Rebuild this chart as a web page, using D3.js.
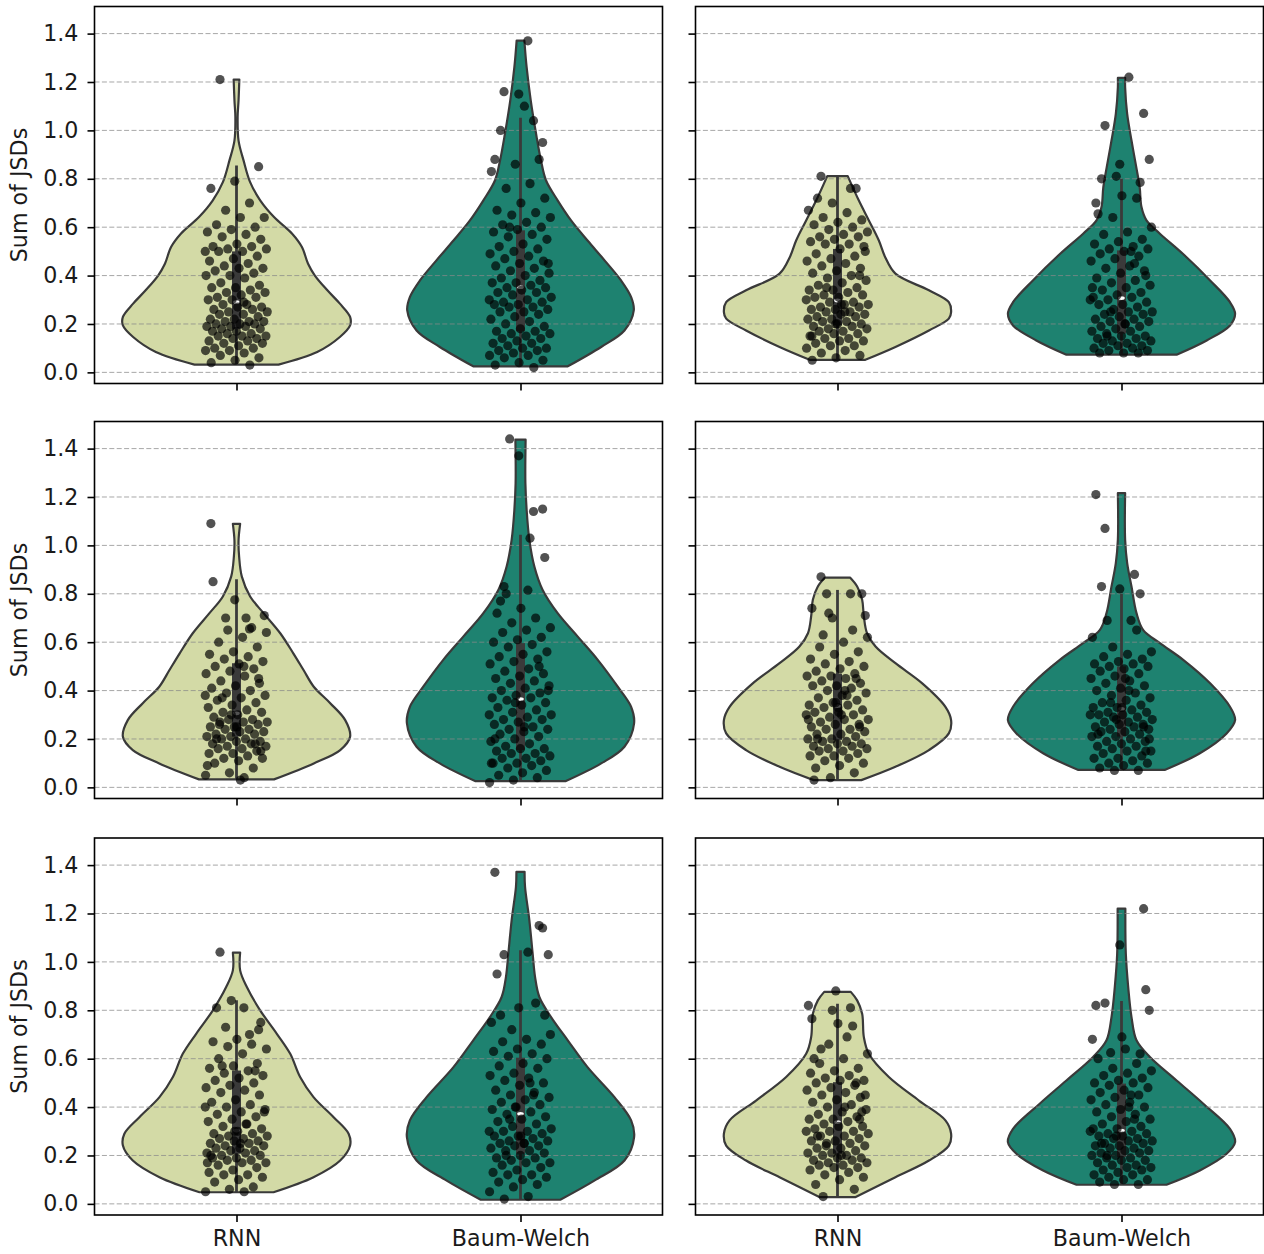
<!DOCTYPE html>
<html>
<head>
<meta charset="utf-8">
<script src="https://cdn.jsdelivr.net/npm/d3@7"></script>
<style>
  body { margin: 0; background: #fff; }
  svg { display: block; }
  text { font-family: "DejaVu Sans", sans-serif; }
</style>
</head>
<body>
<svg id="chart" width="1264" height="1254"></svg>
<script>
// ---- data -------------------------------------------------------------
const categories = ["RNN", "Baum-Welch"];
const yTicks = [0, 0.2, 0.4, 0.6, 0.8, 1.0, 1.2, 1.4];
const yLabel = "Sum of JSDs";

// Sum of JSDs per run, one array per method and panel (panels read row by row)
const rnn1 = [0.50,0.29,1.21,0.85,0.79,0.76,0.70,0.67,0.64,0.64,0.61,0.60,0.59,0.58,0.57,0.56,0.55,0.53,0.52,0.52,0.51,0.51,0.50,0.50,
  0.48,0.47,0.46,0.45,0.44,0.43,0.43,0.42,0.41,0.40,0.40,0.39,0.37,0.36,0.35,0.35,0.34,0.33,0.33,0.32,0.31,0.31,0.30,0.30,
  0.28,0.28,0.27,0.27,0.26,0.26,0.25,0.25,0.24,0.24,0.23,0.22,0.22,0.21,0.21,0.21,0.20,0.20,0.20,0.19,0.19,0.19,0.18,0.18,
  0.17,0.17,0.16,0.16,0.15,0.15,0.15,0.14,0.14,0.13,0.13,0.12,0.12,0.11,0.10,0.10,0.09,0.09,0.08,0.07,0.06,0.05,0.04,0.03];
const bw1 = [0.30,1.37,1.16,0.95,1.15,0.88,1.04,0.60,0.45,1.10,1.00,0.88,0.86,0.83,0.78,0.76,0.72,0.70,0.67,0.66,0.65,0.64,0.62,0.61,0.60,0.59,
  0.58,0.57,0.56,0.55,0.53,0.52,0.51,0.50,0.49,0.48,0.47,0.46,0.45,0.44,0.43,0.42,0.41,0.40,0.39,0.38,0.37,0.37,0.36,0.35,
  0.35,0.34,0.33,0.33,0.32,0.31,0.30,0.29,0.29,0.28,0.28,0.27,0.27,0.26,0.25,0.25,0.24,0.23,0.22,0.21,0.20,0.19,0.18,0.17,
  0.17,0.16,0.16,0.15,0.14,0.14,0.13,0.12,0.12,0.11,0.10,0.10,0.09,0.09,0.08,0.07,0.07,0.06,0.05,0.04,0.03,0.02];
const rnn2 = [0.30,0.25,0.81,0.40,0.20,0.15,0.76,0.35,0.50,0.28,0.72,0.76,
  0.70,0.67,0.66,0.64,0.63,0.62,0.61,0.60,0.59,0.58,0.57,0.56,0.56,0.55,0.54,0.53,0.53,0.52,0.51,
  0.49,0.48,0.47,0.46,0.45,0.44,0.43,0.42,0.41,0.40,0.39,0.38,0.37,0.36,0.35,0.34,0.34,0.33,0.32,0.32,0.31,0.31,
  0.29,0.29,0.28,0.28,0.27,0.27,0.26,0.26,0.25,0.25,0.24,0.24,0.23,0.23,0.22,0.22,0.21,0.21,0.20,0.20,
  0.19,0.19,0.18,0.18,0.17,0.17,0.16,0.16,0.15,0.14,0.14,0.13,0.13,0.12,0.11,0.11,0.10,0.09,0.08,0.07,0.06,0.05];
const bw2 = [0.30,1.22,1.02,1.07,0.86,0.70,0.45,0.25,0.88,0.20,0.80,0.785,0.81,0.35,0.50,0.15,0.40,0.73,0.655,
  0.72,0.64,0.60,0.58,0.57,0.55,0.54,0.53,0.52,0.51,0.51,
  0.50,0.49,0.48,0.47,0.46,0.44,0.43,0.42,0.41,0.39,0.38,0.37,0.36,0.35,0.34,0.33,0.32,0.31,0.31,
  0.30,0.29,0.28,0.28,0.27,0.26,0.25,0.25,0.24,0.24,0.23,0.22,0.22,0.21,0.21,0.20,0.19,0.19,0.18,0.17,0.17,0.16,
  0.15,0.15,0.14,0.14,0.13,0.13,0.12,0.12,0.11,0.11,0.10,0.10,0.09,0.09,0.08,0.08,0.08];
const rnn3 = [0.38,0.50,0.27,0.45,0.775,1.09,0.655,0.70,0.71,0.03,0.20,0.18,0.30,0.09,0.70,0.37,0.15,0.25,0.85,
  0.66,0.65,0.64,0.62,0.60,0.58,0.56,0.55,0.54,0.53,0.52,0.51,
  0.50,0.49,0.48,0.47,0.46,0.44,0.43,0.42,0.41,0.40,0.39,0.38,0.37,0.36,0.35,0.34,0.33,0.32,0.31,0.31,
  0.30,0.29,0.28,0.28,0.27,0.27,0.26,0.26,0.25,0.25,0.24,0.24,0.23,0.23,0.22,0.22,0.21,0.21,
  0.20,0.20,0.19,0.19,0.18,0.18,0.17,0.17,0.16,0.16,0.15,0.14,0.14,0.13,0.12,0.12,0.11,0.10,0.08,0.06,0.05,0.04];
const bw3 = [0.30,0.815,0.83,1.15,1.37,0.20,1.14,1.44,0.40,0.25,0.77,0.50,0.35,0.10,1.03,0.80,0.95,
  0.74,0.72,0.70,0.68,0.66,0.65,0.64,0.62,0.61,0.60,
  0.59,0.58,0.56,0.55,0.54,0.53,0.52,0.51,0.49,0.48,0.47,0.46,0.45,0.44,0.43,0.42,0.41,0.40,0.39,0.38,0.37,0.37,
  0.36,0.35,0.34,0.33,0.32,0.31,0.30,0.29,0.28,0.28,0.27,0.26,0.25,0.24,0.24,0.23,0.22,0.21,0.20,0.19,0.18,0.17,0.16,0.16,
  0.15,0.14,0.14,0.13,0.12,0.12,0.11,0.10,0.10,0.09,0.08,0.07,0.06,0.05,0.04,0.03,0.02];
const rnn4 = [0.30,0.40,0.87,0.25,0.35,0.74,0.80,0.80,0.71,0.30,0.20,0.45,0.70,0.28,0.38,0.63,0.80,0.33,0.03,0.65,0.72,
  0.62,0.60,0.58,0.56,0.55,0.53,0.52,0.51,0.50,0.49,0.48,0.47,
  0.46,0.46,0.45,0.44,0.43,0.42,0.42,0.41,0.40,0.39,0.38,0.37,0.36,0.35,0.34,0.34,
  0.33,0.32,0.31,0.31,0.30,0.29,0.28,0.28,0.27,0.26,0.26,0.25,0.24,0.24,0.23,0.22,0.22,0.21,0.20,0.20,
  0.19,0.19,0.18,0.18,0.17,0.17,0.16,0.16,0.15,0.15,0.14,0.13,0.13,0.12,0.11,0.10,0.09,0.08,0.06,0.04];
const bw4 = [0.30,0.40,1.07,0.25,0.82,1.21,0.88,0.35,0.20,0.45,0.83,0.80,0.28,0.62,0.69,0.69,0.15,0.33,0.22,0.65,
  0.58,0.56,0.55,0.54,0.53,0.52,0.51,0.51,0.50,0.50,
  0.49,0.48,0.47,0.46,0.45,0.44,0.43,0.42,0.41,0.40,0.39,0.38,0.37,0.36,0.35,0.34,0.33,0.33,
  0.32,0.31,0.31,0.30,0.30,0.29,0.29,0.28,0.27,0.27,0.26,0.26,0.25,0.25,0.24,0.24,0.23,0.23,0.22,0.21,0.21,
  0.20,0.19,0.19,0.18,0.17,0.17,0.16,0.15,0.15,0.14,0.13,0.12,0.12,0.11,0.10,0.10,0.09,0.08,0.07,0.07];
const rnn5 = [0.40,0.81,1.04,0.72,0.30,0.20,0.70,0.73,0.38,0.25,0.81,0.55,0.84,0.17,0.33,0.57,0.75,
  0.68,0.67,0.66,0.65,0.64,0.62,0.60,0.58,0.57,0.56,0.55,
  0.54,0.53,0.52,0.51,0.50,0.49,0.48,0.47,0.46,0.45,0.43,0.42,0.41,0.40,0.39,0.38,0.37,0.36,0.35,0.34,0.33,0.32,0.31,
  0.30,0.29,0.29,0.28,0.28,0.27,0.27,0.26,0.26,0.25,0.25,0.24,0.24,0.23,0.23,0.22,0.22,0.21,0.21,
  0.20,0.20,0.19,0.19,0.18,0.18,0.17,0.17,0.16,0.15,0.14,0.13,0.12,0.12,0.11,0.10,0.09,0.07,0.06,0.05,0.05];
const bw5 = [0.30,1.04,1.03,1.14,0.81,1.37,0.45,0.35,1.03,0.25,0.78,1.15,0.40,0.75,0.50,0.20,0.78,0.28,0.95,0.83,
  0.72,0.70,0.68,0.67,0.66,0.64,0.63,0.62,0.61,
  0.60,0.58,0.57,0.56,0.54,0.53,0.52,0.51,0.50,0.49,0.47,0.46,0.45,0.44,0.43,0.42,0.41,0.40,0.39,0.38,0.37,
  0.36,0.35,0.34,0.33,0.32,0.31,0.30,0.30,0.29,0.28,0.28,0.27,0.26,0.26,0.25,0.25,0.24,0.24,0.23,0.22,0.22,0.21,
  0.20,0.19,0.19,0.18,0.17,0.17,0.16,0.15,0.14,0.13,0.12,0.12,0.11,0.10,0.09,0.08,0.07,0.05,0.03,0.02];
const rnn6 = [0.30,0.40,0.64,0.35,0.88,0.765,0.81,0.25,0.45,0.20,0.28,0.50,0.80,0.82,0.69,0.03,0.38,0.745,0.60,0.735,0.66,
  0.62,0.60,0.58,0.56,0.55,0.54,0.53,0.52,0.51,0.51,
  0.50,0.49,0.48,0.47,0.46,0.45,0.44,0.43,0.42,0.41,0.40,0.39,0.38,0.37,0.36,0.35,0.35,0.34,
  0.33,0.32,0.32,0.31,0.30,0.30,0.29,0.28,0.28,0.27,0.26,0.26,0.25,0.24,0.24,0.23,0.23,0.22,0.21,0.21,
  0.20,0.20,0.19,0.19,0.18,0.18,0.17,0.17,0.16,0.16,0.15,0.15,0.14,0.13,0.12,0.11,0.10,0.08,0.06];
const bw6 = [0.30,0.40,0.83,1.22,1.07,0.82,0.35,0.625,0.80,0.64,0.25,0.62,0.28,0.68,0.45,0.20,0.885,0.69,
  0.60,0.58,0.56,0.55,0.54,0.53,0.52,0.51,0.50,0.50,
  0.49,0.48,0.47,0.46,0.45,0.44,0.43,0.42,0.41,0.40,0.39,0.38,0.37,0.36,0.35,0.34,0.33,0.32,0.31,0.31,
  0.30,0.29,0.29,0.28,0.28,0.27,0.27,0.26,0.26,0.25,0.25,0.24,0.24,0.23,0.23,0.22,0.22,0.21,0.21,0.20,0.20,0.19,
  0.19,0.18,0.18,0.17,0.16,0.16,0.15,0.15,0.14,0.14,0.13,0.12,0.12,0.11,0.10,0.10,0.09,0.08,0.08];

// inner box summary per panel: [lower whisker, Q1, median, Q3, upper whisker]
const rnnBox = [
  [0.032, 0.18, 0.29, 0.50, 0.855],
  [0.052, 0.194, 0.297, 0.51, 0.811],
  [0.030, 0.21, 0.306, 0.513, 0.86],
  [0.026, 0.196, 0.336, 0.47, 0.816],
  [0.048, 0.207, 0.303, 0.551, 0.841],
  [0.028, 0.207, 0.338, 0.503, 0.827]
];
const bwBox = [
  [0.022, 0.17, 0.352, 0.587, 1.052],
  [0.077, 0.16, 0.307, 0.504, 0.80],
  [0.023, 0.154, 0.365, 0.596, 1.044],
  [0.072, 0.21, 0.324, 0.50, 0.80],
  [0.017, 0.207, 0.372, 0.604, 1.048],
  [0.079, 0.193, 0.303, 0.497, 0.838]
];

// kernel density outlines: [score, density scaled to the widest point]
const rnnDensity = [
  [[0.032,0.37],[0.084,0.71],[0.146,0.91],[0.194,1.0],[0.229,1.0],[0.284,0.91],[0.339,0.80],[0.40,0.69],[0.449,0.63],[0.518,0.576],[0.573,0.49],[0.642,0.33],[0.71,0.21],[0.786,0.12],[0.876,0.062],[0.958,0.018],[1.055,0.01],[1.124,0.018],[1.21,0.025]],
  [[0.052,0.245],[0.105,0.51],[0.173,0.805],[0.222,0.98],[0.249,1.0],[0.29,0.98],[0.339,0.805],[0.408,0.51],[0.476,0.42],[0.545,0.364],[0.628,0.276],[0.71,0.188],[0.811,0.09]],
  [[0.033,0.33],[0.099,0.68],[0.154,0.913],[0.209,1.0],[0.278,0.957],[0.348,0.825],[0.416,0.68],[0.485,0.59],[0.554,0.50],[0.637,0.385],[0.72,0.238],[0.789,0.12],[0.871,0.047],[0.954,0.023],[1.02,0.018],[1.089,0.032]],
  [[0.030,0.21],[0.085,0.51],[0.154,0.805],[0.223,0.98],[0.278,1.0],[0.333,0.95],[0.43,0.746],[0.513,0.51],[0.582,0.335],[0.637,0.26],[0.706,0.232],[0.775,0.217],[0.83,0.173],[0.867,0.11]],
  [[0.048,0.326],[0.11,0.678],[0.179,0.913],[0.241,1.0],[0.29,0.987],[0.358,0.855],[0.441,0.678],[0.524,0.56],[0.62,0.473],[0.703,0.355],[0.80,0.208],[0.896,0.091],[0.965,0.032],[1.038,0.032]],
  [[0.028,0.16],[0.11,0.51],[0.179,0.805],[0.241,0.98],[0.29,1.0],[0.345,0.95],[0.427,0.717],[0.524,0.452],[0.62,0.276],[0.689,0.232],[0.786,0.217],[0.841,0.173],[0.876,0.117]]
];
const bwDensity = [
  [[0.025,0.416],[0.105,0.71],[0.173,0.915],[0.256,0.997],[0.311,0.974],[0.38,0.885],[0.463,0.74],[0.545,0.59],[0.628,0.445],[0.71,0.328],[0.793,0.225],[0.876,0.18],[0.986,0.137],[1.124,0.09],[1.261,0.054],[1.371,0.034]],
  [[0.073,0.485],[0.132,0.75],[0.194,0.955],[0.242,1.0],[0.29,0.955],[0.38,0.78],[0.49,0.54],[0.573,0.338],[0.628,0.22],[0.683,0.176],[0.765,0.16],[0.848,0.13],[0.958,0.088],[1.068,0.05],[1.178,0.032],[1.217,0.032]],
  [[0.026,0.40],[0.099,0.71],[0.168,0.915],[0.265,1.0],[0.333,0.974],[0.416,0.856],[0.527,0.68],[0.623,0.504],[0.72,0.327],[0.816,0.195],[0.913,0.122],[1.023,0.078],[1.147,0.054],[1.258,0.043],[1.437,0.045]],
  [[0.072,0.38],[0.141,0.69],[0.223,0.925],[0.278,1.0],[0.333,0.955],[0.43,0.78],[0.527,0.543],[0.596,0.338],[0.651,0.19],[0.72,0.132],[0.83,0.088],[0.927,0.05],[1.023,0.032],[1.216,0.032]],
  [[0.017,0.35],[0.096,0.65],[0.179,0.915],[0.276,1.0],[0.345,0.974],[0.441,0.827],[0.565,0.59],[0.676,0.416],[0.772,0.269],[0.855,0.166],[0.938,0.128],[1.034,0.107],[1.172,0.078],[1.31,0.04],[1.372,0.036]],
  [[0.079,0.396],[0.138,0.69],[0.207,0.925],[0.255,1.0],[0.31,0.955],[0.414,0.72],[0.51,0.485],[0.607,0.25],[0.676,0.132],[0.772,0.088],[0.896,0.059],[1.034,0.038],[1.22,0.034]]
];

const rnnScores = [rnn1, rnn2, rnn3, rnn4, rnn5, rnn6];
const bwScores = [bw1, bw2, bw3, bw4, bw5, bw6];

// ---- layout -----------------------------------------------------------
const colX = [94.5, 695.5];
const rowY = [6.5, 421.5, 838];
const panelW = 568, panelH = 377;
const yDomain = [-0.046, 1.512];
const fills = { "RNN": "#d3daa6", "Baum-Welch": "#1e8270" };
const lineColor = "#3a3a3a";
const fontSize = 22.2;

const svg = d3.select("#chart");

// deterministic strip-plot jitter in [-1, 1)
const jitterAt = i => ((i * 0.6180339887) % 1) * 2 - 1;

for (let k = 0; k < 6; k++) {
  const row = Math.floor(k / 2), col = k % 2;
  const x0 = colX[col], y0 = rowY[row];

  const x = d3.scalePoint().domain(categories).range([x0, x0 + panelW]).padding(0.5);
  const y = d3.scaleLinear().domain(yDomain).range([y0 + panelH, y0]);
  const halfW = x.step() * 0.4;
  const jitterW = x.step() * 0.11;

  const groups = [
    { cat: "RNN", scores: rnnScores[k], box: rnnBox[k], dens: rnnDensity[k] },
    { cat: "Baum-Welch", scores: bwScores[k], box: bwBox[k], dens: bwDensity[k] }
  ];

  const g = svg.append("g");
  const clipId = "clip" + k;
  g.append("clipPath").attr("id", clipId)
    .append("rect").attr("x", x0).attr("y", y0).attr("width", panelW).attr("height", panelH);
  const plot = g.append("g").attr("clip-path", `url(#${clipId})`);

  // violins
  groups.forEach(d => {
    const cx = x(d.cat);
    const area = d3.area()
      .y(p => y(p[0]))
      .x0(p => cx - halfW * p[1])
      .x1(p => cx + halfW * p[1])
      .curve(d3.curveCatmullRom.alpha(0.5));
    plot.append("path")
      .attr("d", area(d.dens))
      .attr("fill", fills[d.cat])
      .attr("stroke", lineColor)
      .attr("stroke-width", 2.2)
      .attr("stroke-linejoin", "round");
  });

  // dashed horizontal grid
  plot.selectAll("line.grid").data(yTicks).join("line")
    .attr("class", "grid")
    .attr("x1", x0).attr("x2", x0 + panelW)
    .attr("y1", d => y(d)).attr("y2", d => y(d))
    .attr("stroke", "#8a8a8a").attr("stroke-opacity", 0.75)
    .attr("stroke-width", 1).attr("stroke-dasharray", "5,2.4");

  // inner box: whiskers, IQR box, median
  groups.forEach(d => {
    const cx = x(d.cat);
    const [lo, q1, med, q3, hi] = d.box;
    plot.append("line")
      .attr("x1", cx).attr("x2", cx)
      .attr("y1", y(lo)).attr("y2", y(hi))
      .attr("stroke", lineColor).attr("stroke-width", 2.8);
    plot.append("rect")
      .attr("x", cx - 4.5).attr("width", 9)
      .attr("y", y(q3)).attr("height", y(q1) - y(q3))
      .attr("fill", lineColor);
    plot.append("ellipse")
      .attr("cx", cx).attr("cy", y(med))
      .attr("rx", 3.3).attr("ry", 1.9)
      .attr("fill", "#fff");
  });

  // individual runs
  groups.forEach(d => {
    const cx = x(d.cat);
    plot.append("g").selectAll("circle").data(d.scores).join("circle")
      .attr("cx", (v, i) => cx + jitterAt(i) * jitterW)
      .attr("cy", v => y(v))
      .attr("r", 4.6)
      .attr("fill", "#000")
      .attr("fill-opacity", 0.68);
  });

  // frame
  g.append("rect")
    .attr("x", x0).attr("y", y0).attr("width", panelW).attr("height", panelH)
    .attr("fill", "none").attr("stroke", "#000").attr("stroke-width", 1.6);

  // axes
  const yAxis = g.append("g")
    .attr("transform", `translate(${x0},0)`)
    .call(d3.axisLeft(y).tickValues(yTicks).tickSize(7).tickPadding(9)
      .tickFormat(col === 0 ? d3.format(".1f") : () => ""));
  const xAxis = g.append("g")
    .attr("transform", `translate(0,${y0 + panelH})`)
    .call(d3.axisBottom(x).tickSize(7).tickPadding(8.5)
      .tickFormat(row === 2 ? (d => d) : () => ""));
  [yAxis, xAxis].forEach(a => {
    a.select(".domain").remove();
    a.selectAll(".tick line").attr("stroke", "#000").attr("stroke-width", 1.6);
    a.selectAll(".tick text")
      .attr("fill", "#1a1a1a")
      .style("font-size", fontSize + "px")
      .style("font-family", "'DejaVu Sans', sans-serif");
  });

  if (col === 0) {
    g.append("text")
      .attr("transform", `translate(27,${y0 + panelH / 2}) rotate(-90)`)
      .attr("text-anchor", "middle")
      .attr("fill", "#1a1a1a")
      .style("font-size", fontSize + "px")
      .text(yLabel);
  }
}
</script>
</body>
</html>
